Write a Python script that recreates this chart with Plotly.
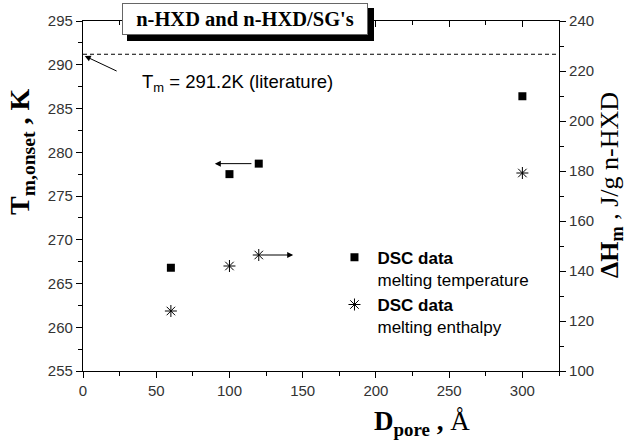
import plotly.graph_objects as go

# Data
d_pore = [60, 100, 120, 300]
tm_onset = [266.8, 277.5, 278.7, 286.4]
dh_m = [124.0, 142.0, 146.4, 179.2]
t_lit = 291.2

x_ticks = [0, 50, 100, 150, 200, 250, 300]
y_ticks = [255, 260, 265, 270, 275, 280, 285, 290, 295]
y2_ticks = [100, 120, 140, 160, 180, 200, 220, 240]

TICKFONT = dict(family="Liberation Sans, Arial", size=15, color="#333")
SERIF = "Liberation Serif, Times New Roman"
SANS = "Liberation Sans, Arial"

L, R, T, B = 83, 559, 21, 371  # plot area in pixels


def px_x(px):
    return (px - L) / float(R - L)


def px_y(py):
    return (B - py) / float(B - T)


fig = go.Figure()

fig.add_trace(go.Scatter(
    x=d_pore, y=tm_onset, mode="markers", name="<b>DSC data</b><br>melting temperature",
    marker=dict(symbol="square", size=8, color="black"), yaxis="y", xaxis="x"))
fig.add_trace(go.Scatter(
    x=d_pore, y=dh_m, mode="markers", name="<b>DSC data</b><br>melting enthalpy",
    marker=dict(symbol="asterisk-open", size=10, color="black", line=dict(width=1, color="black")),
    yaxis="y2", xaxis="x"))

# literature line
fig.add_trace(go.Scatter(x=[0, 325], y=[t_lit, t_lit], mode="lines", showlegend=False,
                         line=dict(color="black", width=1, dash="4px,3px"), yaxis="y", xaxis="x",
                         hoverinfo="skip"))

# dummy trace for top axis
fig.add_trace(go.Scatter(x=[0], y=[t_lit], xaxis="x2", yaxis="y", mode="markers",
                         marker=dict(opacity=0), showlegend=False, hoverinfo="skip"))

axis_common = dict(showline=True, linecolor="black", linewidth=1.2, ticks="outside",
                   ticklen=6, tickwidth=1.2, tickcolor="black", showgrid=False, zeroline=False,
                   tickfont=TICKFONT, automargin=False)

fig.update_layout(
    width=629, height=443,
    margin=dict(l=L, r=629 - R, t=T, b=443 - B),
    paper_bgcolor="white", plot_bgcolor="rgba(0,0,0,0)",
    xaxis=dict(range=[0, 325], tickvals=x_ticks, anchor="y", **axis_common,
               minor=dict(ticks="outside", ticklen=4, tickwidth=1.2, tickcolor="black", dtick=25, tick0=0)),
    xaxis2=dict(range=[0, 325], overlaying="x", side="top", anchor="y", showline=True, linecolor="black",
                linewidth=1.2, ticks="inside", ticklen=6, tickwidth=1.2, tickcolor="black",
                tickvals=x_ticks, showticklabels=False, showgrid=False, zeroline=False, automargin=False,
                minor=dict(ticks="inside", ticklen=4, tickwidth=1.2, tickcolor="black", dtick=25, tick0=0)),
    yaxis=dict(range=[255, 295], tickvals=y_ticks, **axis_common,
               minor=dict(ticks="outside", ticklen=4, tickwidth=1.2, tickcolor="black", dtick=2.5, tick0=255)),
    yaxis2=dict(range=[100, 240], tickvals=y2_ticks, overlaying="y", side="right", anchor="x", **axis_common,
                minor=dict(ticks="outside", ticklen=4, tickwidth=1.2, tickcolor="black", dtick=10, tick0=100)),
    legend=dict(x=0.522, y=0.375, xanchor="left", yanchor="top", bgcolor="rgba(0,0,0,0)",
                font=dict(family=SANS, size=17, color="black"), itemwidth=36,
                valign="top", tracegroupgap=0),
    showlegend=True,
)

# axis titles as annotations (placed as in the original)
fig.add_annotation(x=px_x(422), y=px_y(423), xref="paper", yref="paper", showarrow=False,
                   xanchor="center", yanchor="middle",
                   text="<b>D<sub>pore</sub> ,</b> Å",
                   font=dict(family=SERIF, size=27, color="black"))
fig.add_annotation(x=px_x(21), y=px_y(152), xref="paper", yref="paper", showarrow=False,
                   xanchor="center", yanchor="middle", textangle=-90,
                   text="<b>T<sub>m,onset</sub> , K</b>",
                   font=dict(family=SERIF, size=28, color="black"))
fig.add_annotation(x=px_x(611), y=px_y(185), xref="paper", yref="paper", showarrow=False,
                   xanchor="center", yanchor="middle", textangle=-90,
                   text="<b>ΔH<sub>m</sub></b> , J/g n-HXD",
                   font=dict(family=SERIF, size=26, color="black"))

# arrows
fig.add_annotation(x=90, y=278.7, ax=116, ay=278.7, xref="x", yref="y", axref="x", ayref="y",
                   showarrow=True, arrowhead=2, arrowsize=1.2, arrowwidth=1, arrowcolor="black", text="")
fig.add_annotation(x=143.5, y=146.4, ax=123, ay=146.4, xref="x", yref="y2", axref="x", ayref="y2",
                   showarrow=True, arrowhead=2, arrowsize=1.2, arrowwidth=1, arrowcolor="black", text="")
fig.add_annotation(x=1.2, y=291.0, ax=24, ay=289.2, xref="x", yref="y", axref="x", ayref="y",
                   showarrow=True, arrowhead=2, arrowsize=1.2, arrowwidth=1, arrowcolor="black", text="")
fig.add_annotation(x=39, y=287.9, xref="x", yref="y", xanchor="left", yanchor="middle", showarrow=False,
                   text="T<sub>m</sub> = 291.2K (literature)",
                   font=dict(family=SANS, size=18.5, color="black"))

# title box with shadow
fig.add_shape(type="rect", xref="paper", yref="paper",
              x0=px_x(127), x1=px_x(374), y0=px_y(41), y1=px_y(8),
              fillcolor="black", line=dict(width=0), layer="below")
fig.add_annotation(x=px_x(245), y=px_y(19), xref="paper", yref="paper", showarrow=False,
                   xanchor="center", yanchor="middle",
                   width=244, height=30, borderpad=0, borderwidth=1, bordercolor="#666", bgcolor="white",
                   text="<b>n-HXD and n-HXD/SG's</b>",
                   font=dict(family=SERIF, size=20.5, color="black"))

fig.write_html("out.html")
